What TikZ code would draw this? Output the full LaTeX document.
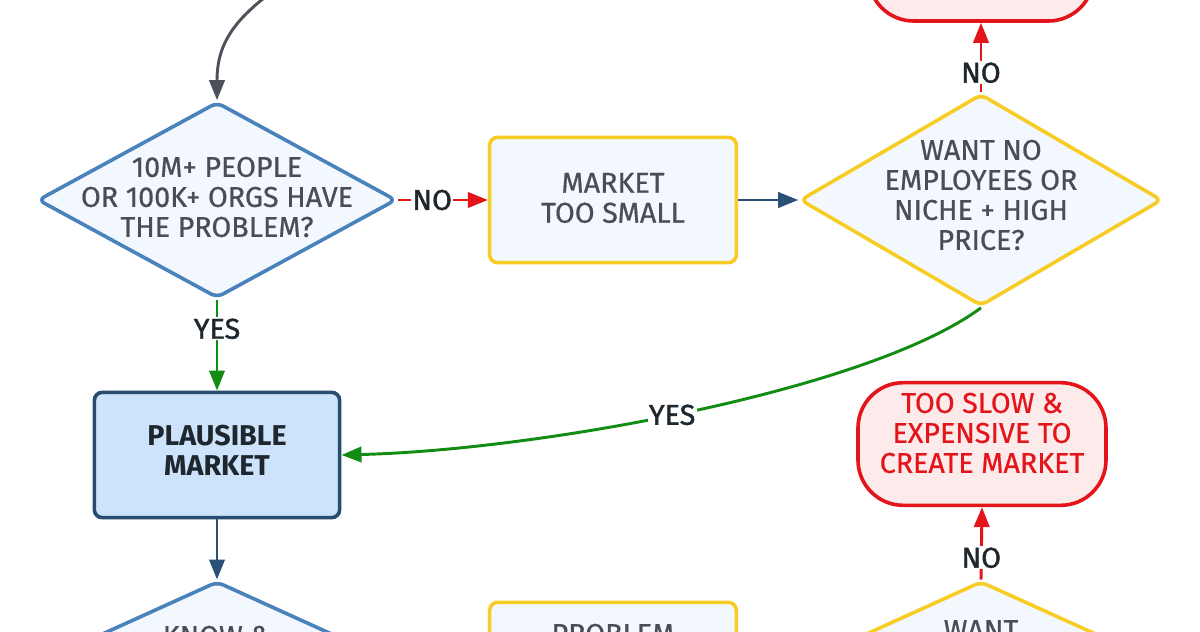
\documentclass[tikz,border=0pt]{standalone}
\usepackage{fontspec}
\setmainfont{Fira Sans}
\newfontfamily\nodefont{Fira Sans}[FakeBold=0.6]
\newfontfamily\lblfont{Fira Sans}[FakeBold=1.4]
\usetikzlibrary{shapes.geometric,arrows.meta}
\definecolor{txt}{HTML}{484D56}
\definecolor{lbl}{HTML}{1E272D}
\definecolor{bblue}{HTML}{4A82BB}
\definecolor{pale}{HTML}{F3F8FE}
\definecolor{ylw}{HTML}{F7CD25}
\definecolor{dblue}{HTML}{2B5078}
\definecolor{gry}{HTML}{4B525B}
\definecolor{rd}{HTML}{E3151A}
\definecolor{rdfill}{HTML}{FDEAEA}
\definecolor{grn}{HTML}{138C13}
\definecolor{plfill}{HTML}{CDE2FB}
\definecolor{plborder}{HTML}{284B70}
\tikzset{
  tf/.style={font=\nodefont\fontsize{21.5}{22.5}\selectfont, text=txt, align=center},
  dia/.style={diamond, draw, line width=2.7pt, fill=pale, rounded corners=5pt, inner sep=0pt},
  bluedia/.style={dia, draw=bblue},
  ylwdia/.style={dia, draw=ylw},
  ybox/.style={rectangle, draw=ylw, line width=2.7pt, fill=pale, rounded corners=6pt, inner sep=0pt},
  plbox/.style={rectangle, draw=plborder, line width=2.7pt, fill=plfill, rounded corners=6pt, inner sep=0pt},
  stad/.style={rectangle, draw=rd, line width=2.7pt, fill=rdfill, rounded corners=34pt, inner sep=0pt},
  edge/.style={line width=2.2pt, -{Triangle[length=15pt,width=11.5pt]}},
  elbl/.style={fill=white, inner sep=1pt, font=\lblfont\fontsize{21.5}{22}\selectfont, text=lbl},
}
\begin{document}
\begin{tikzpicture}[x=0.75pt,y=-0.75pt]
\clip (0,0) rectangle (1200,632);
\fill[white] (0,0) rectangle (1200,632);

% nodes
\node[bluedia, minimum width=269pt, minimum height=147pt] (d1) at (217,200) {};
\node[tf] (d1t) at (217,197) {10M+ PEOPLE\\OR 100K+ ORGS HAVE\\THE PROBLEM?};

\node[ybox, minimum width=185pt, minimum height=94pt] (mts) at (613,200) {};
\node[tf] (mtst) at (613,198) {MARKET\\TOO SMALL};

\node[ylwdia, minimum width=271.5pt, minimum height=159pt] (d2) at (981,200) {};
\node[tf] (d2t) at (981,195) {WANT NO\\EMPLOYEES OR\\NICHE + HIGH\\PRICE?};

\node[stad, minimum width=169pt, minimum height=90pt] (tops) at (981,-39) {};

\node[plbox, minimum width=184pt, minimum height=94pt] (pm) at (217,455) {};
\node[tf, font=\fontsize{21.5}{22.5}\selectfont\bfseries, text=lbl] (pmt) at (217,450) {PLAUSIBLE\\MARKET};

\node[stad, minimum width=186pt, minimum height=92pt] (slow) at (982,444) {};
\node[tf, text=rd] (slowt) at (982,433) {TOO SLOW \&\\EXPENSIVE TO\\CREATE MARKET};

\node[bluedia, minimum width=345pt, minimum height=157pt] (d3) at (217,686) {};
\node[tf] (d3t) at (217,636) {KNOW \&};

\node[ybox, minimum width=185pt, minimum height=94pt] (prob) at (613,665) {};
\node[tf] (probt) at (613,634) {PROBLEM};

\node[ylwdia, minimum width=345pt, minimum height=157pt] (d4) at (981,686) {};
\node[tf] (d4t) at (981,630) {WANT};

\coordinate (src) at (298,-25);

% edges
\draw[edge, gry] (src) .. controls (232,15) and (217,45) .. (d1.north);
\draw[edge, rd] (d1.east) -- node[elbl, pos=0.38] {NO} (mts.west);
\draw[edge, dblue] (mts.east) -- (d2.west);
\draw[edge, rd] (d2.north) -- node[elbl, pos=0.28] {NO} (tops.south);
\draw[edge, grn] (d1.south) -- node[elbl, pos=0.32] {YES} (pm.north);
\draw[edge, grn] (d2.south) .. controls (870,390) and (540,450) .. node[elbl, pos=0.53] {YES} (pm.east);
\draw[edge, dblue] (pm.south) -- (d3.north);
\draw[edge, rd] (d4.north) -- node[elbl, pos=0.3] {NO} (slow.south);
\end{tikzpicture}
\end{document}
